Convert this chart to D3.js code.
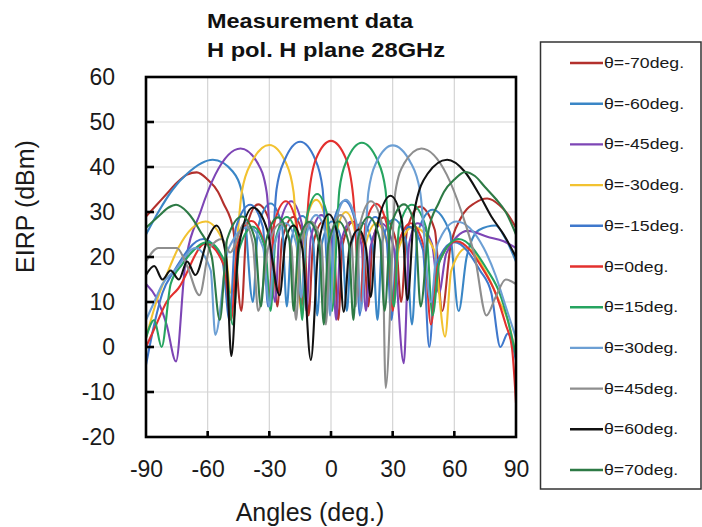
<!DOCTYPE html>
<html>
<head>
<meta charset="utf-8">
<script src="https://cdn.jsdelivr.net/npm/d3@7"></script>
<style>
  html, body { margin: 0; padding: 0; background: #fff; }
  svg { display: block; }
</style>
</head>
<body>
<script>
// ---------- data (angles in deg, EIRP in dBm) ----------
const xTickValues = [-90, -60, -30, 0, 30, 60, 90];
const yTickValues = [-20, -10, 0, 10, 20, 30, 40, 50, 60];

const seriesNames = ["θ=-70deg.", "θ=-60deg.", "θ=-45deg.", "θ=-30deg.", "θ=-15deg.", "θ=0deg.",
                     "θ=15deg.", "θ=30deg.", "θ=45deg.", "θ=60deg.", "θ=70deg."];
const seriesColors = ["#b3302c", "#3a86c6", "#7d45b5", "#f2c230", "#3f78cc", "#e3302e",
                      "#26a460", "#6c9fd4", "#8e8e8e", "#111111", "#2d7a45"];

const angM70 = [-90,-85,-80,-75,-70,-65.3,-60,-55,-52.4,-47.5,-43.6,-41,-35.5,-29,-26.1,-23.8,-18.3,-13,-10.9,-8.7,-3.7,1.3,3.5,5.7,10.7,15.9,18.1,20.3,25.8,31.5,34.1,37,43.3,50.5,54.1,58,63,70,76,82,86,90];
const valM70 = [29,31.5,34,36.5,38.3,38.8,37.2,34.5,32,26,8,26.7,31.7,26.7,9,23.9,28.9,23.9,7,22.9,27.9,22.9,6,22.8,27.8,22.8,9,23.8,28.8,23.8,10,26,31.2,26,8,22,28.5,32,33,31.5,29.5,26.5];

const angM60 = [-90,-84,-77,-70,-57.5,-47.8,-42.7,-38,-35.4,-29.4,-23.8,-21.5,-19.2,-14,-8.8,-6.7,-4.5,0.5,5.5,7.7,9.9,15,20.3,22.6,24.9,30.6,36.6,39.4,42.2,49.4,57.8,62.1,66,72,80,85,90];
const valM60 = [25,30,35,38.5,41.6,39,33,10,26.9,31.9,26.9,9,24.1,29.1,24.1,7,22.9,27.9,22.9,8,22.6,27.6,22.6,6,23.4,28.4,23.4,5,25.5,30.5,25.5,8,20,26,27,24,19];

const angM45 = [-90,-85,-80,-75.4,-71,-63.5,-56.3,-44,-35.6,-31.3,-27.2,-24.8,-19.4,-14.2,-12,-9.8,-4.7,0.3,2.5,4.6,9.7,14.8,17,19.3,24.7,30.4,35.4,38,42,49.1,52.5,56.1,66.6,76,84,90];
const valM45 = [14,11,5,-3.2,18,30,38.3,44.1,40.8,34.4,10,27.4,32.4,27.4,8,24.3,29.3,24.3,6,22.8,27.8,22.8,8,22.4,27.4,22.4,-3.6,22.9,27.5,22.9,12,20.8,25.8,24.5,23.5,22];

const angM30 = [-90,-85,-80,-74.3,-61,-51.9,-48.6,-43.4,-38.7,-30,-22,-18.2,-14.5,-12.3,-7.2,-2.15,0.5,2.15,7.2,12.3,14.5,16.7,22,27.6,30,33,40,50,55.5,58.5,66,76,82,86,90];
const valM30 = [2,10,16,22,27.9,22.9,12,34.4,41,44.9,41,34.4,8,27.7,32.7,27.7,8.6,24.3,30,24.3,10,22.5,27.5,22.5,10,22,26.7,21.7,2.3,17,22,16,10,6,-2];

const angM15 = [-90,-86,-82,-76.2,-62.1,-52.8,-49.4,-46.2,-39.3,-33.1,-30.6,-26.5,-22.6,-15,-7.7,-4.1,-0.5,1.65,6.7,11.75,14,16.2,21.5,27,29.4,31.9,38,44.7,47.8,51.1,60,72.5,78,82.4,86,90];
const valM15 = [-4,5,12,17,24,19,6,26.6,31.6,26.6,9,35,41.5,45.6,41.7,35.2,9,28.5,32.5,28,7,23.9,28.9,23.9,6,21.7,26.7,21.7,0,18.3,23.3,17,12,0,3,-3];

const ang0 = [-90,-85,-80,-74.3,-61,-51.9,-48.6,-45.4,-38.7,-32.5,-30,-27.6,-22,-16.7,-14.5,-10.8,-7.2,0,7.2,10.8,14.5,16.7,22,27.6,30,32.5,38.7,45.4,48.6,51.9,61,74.3,80,85,88,90];
const val0 = [0,5,10,13,23,18,6,23,28,23,11,27.5,32.4,27.4,9,33.5,41.9,45.8,41.9,33.5,10,27,31.8,26.5,8,22.5,27.5,22,5,18,23.5,17,12,5,0,-12.5];

const angP15 = [-90,-86,-82.4,-78,-72.5,-60,-51.1,-47.8,-44.7,-38,-31.9,-29.4,-27,-21.5,-16.2,-14,-11.75,-6.7,-1.65,0.5,4.1,7.7,15,22.6,26.5,30.6,33.1,39.3,46.2,49.4,52.8,62.1,76.2,82,86,90];
const valP15 = [2,6,0,14,18.3,23.3,18.3,5,21.7,26.7,21.7,8,23.9,28.9,23.9,6,29,34,29,8,35,41.5,45.4,41.5,35,9,26.6,31.6,26.6,7,19,24,17,12,6,-2];

const angP30 = [-90,-86,-82,-76,-66,-58.5,-56.3,-50,-40,-33,-30,-27.6,-22,-16.7,-14.5,-12.3,-7.2,-2.15,-0.5,2.15,7.2,12.3,14.5,18.2,22,30,38.7,43.4,48.6,51.9,61,74.3,80,85,90];
const valP30 = [6,10,14,17,22,17,2.7,21.7,26.7,22,9,22.5,27.5,22.5,11,24.3,29.3,24.3,7,27.7,32.7,27.7,8,34.4,41,44.8,41,34.4,10,22.9,27.9,22,16,9,2];

const angP45 = [-90,-84,-75,-70,-64,-59,-53,-49.1,-42,-38,-35.4,-30.4,-24.7,-19.3,-17,-14.8,-9.7,-4.6,-2.5,-0.3,4.7,9.8,12,14.2,19.4,24.8,26.6,31.3,35.6,44,56.3,63.5,70,75.6,80,85,90];
const valP45 = [19,22,22,18,11.5,22,24,21,27.5,22.9,8,22.4,27.4,22.4,6,22.8,27.8,22.8,5,24.3,29.3,24.3,9,27.4,32.4,27.4,-9.1,34.4,40.8,44.1,38.3,30,20,7,11,15,14];

const angP60 = [-90,-86,-82,-78,-74,-70,-66,-60,-55.8,-51,-48.5,-45,-38,-31,-25,-22,-18.3,-14,-9.8,-6,-1.1,3.5,6.2,9,13.5,17,19.3,22,29,34.5,37.2,40.5,47,56.5,65,72,78,84,90];
const valP60 = [16,18,15,17,15,19,16,24,27,20,-2,22,31,26,11.5,24,27,22,-2.9,23,29.5,24,7.8,22,26.1,22,11.1,26,33.6,28,10.4,30,38.5,41.6,39,34,29,25,20];

const angP70 = [-90,-84,-79,-75.4,-70,-64,-58,-54.1,-50.5,-43.3,-37,-34.1,-31.5,-25.8,-20.3,-18.1,-15.9,-10.7,-5.7,-3.5,-1.3,3.7,8.7,10.9,13,18.3,23.8,26.1,29,35.5,41,43.6,47.5,52.4,55,60,65.3,70,75,80,85,90];
const valP70 = [26.5,29,31,31.6,30,26,20,6,24,29,24,9,23.8,28.8,23.8,8,22.8,27.8,22.8,5,22.9,27.9,22.9,6,23.9,28.9,23.9,8,26.7,31.7,26.7,9,26,32,34.5,37.2,38.9,38,35.5,33,30,25];

const seriesAngles = [angM70, angM60, angM45, angM30, angM15, ang0, angP15, angP30, angP45, angP60, angP70];
const seriesValues = [valM70, valM60, valM45, valM30, valM15, val0, valP15, valP30, valP45, valP60, valP70];

// ---------- layout ----------
const W = 702, H = 527;
const FONT = "'Liberation Sans', Arial, Helvetica, sans-serif";
const svg = d3.select("body").append("svg").attr("width", W).attr("height", H)
  .style("font-family", FONT);

const x = d3.scaleLinear().domain([-90, 90]).range([146, 516]);
const y = d3.scaleLinear().domain([-20, 60]).range([437, 77]);

// grid
const grid = svg.append("g");
grid.selectAll("line.v").data(xTickValues.slice(1, -1)).join("line")
  .attr("x1", d => x(d)).attr("x2", d => x(d)).attr("y1", y(60)).attr("y2", y(-20))
  .attr("stroke", "#d4d4d4").attr("stroke-width", 1.2);
grid.selectAll("line.h").data(yTickValues.slice(1, -1)).join("line")
  .attr("y1", d => y(d)).attr("y2", d => y(d)).attr("x1", x(-90)).attr("x2", x(90))
  .attr("stroke", "#d4d4d4").attr("stroke-width", 1.2);

// clip
svg.append("clipPath").attr("id", "plotclip").append("rect")
  .attr("x", x(-90)).attr("y", y(60)).attr("width", x(90) - x(-90)).attr("height", y(-20) - y(60));

// series lines
const line = d3.line().x(d => x(d[0])).y(d => y(d[1])).curve(d3.curveMonotoneX);
const lines = svg.append("g").attr("clip-path", "url(#plotclip)");
seriesAngles.forEach((angs, i) => {
  const pts = angs.map((a, j) => [a, seriesValues[i][j]]);
  lines.append("path").datum(pts)
    .attr("d", line).attr("fill", "none")
    .attr("stroke", seriesColors[i]).attr("stroke-width", 2.1)
    .attr("stroke-linejoin", "round");
});

// frame
svg.append("rect").attr("x", x(-90)).attr("y", y(60))
  .attr("width", x(90) - x(-90)).attr("height", y(-20) - y(60))
  .attr("fill", "none").attr("stroke", "#000").attr("stroke-width", 2.6);

// inward ticks
svg.append("g").selectAll("line").data(yTickValues.slice(1, -1)).join("line")
  .attr("x1", x(-90)).attr("x2", x(-90) + 8).attr("y1", d => y(d)).attr("y2", d => y(d))
  .attr("stroke", "#000").attr("stroke-width", 2.6);
svg.append("g").selectAll("line").data(xTickValues.slice(1, -1)).join("line")
  .attr("x1", d => x(d)).attr("x2", d => x(d)).attr("y1", y(-20)).attr("y2", y(-20) - 6)
  .attr("stroke", "#000").attr("stroke-width", 2.6);

// axes labels (plain hyphen-minus as in the reference)
const fmt = d => String(d);
const yAxis = svg.append("g").attr("transform", `translate(${x(-90)},0)`)
  .call(d3.axisLeft(y).tickValues(yTickValues).tickSize(0).tickPadding(31).tickFormat(fmt));
yAxis.select(".domain").remove();
yAxis.selectAll("text").attr("font-size", 23).attr("font-family", FONT).attr("fill", "#1a1a1a");

const xAxis = svg.append("g").attr("transform", `translate(0,${y(-20)})`)
  .call(d3.axisBottom(x).tickValues(xTickValues).tickSize(0).tickPadding(24).tickFormat(fmt));
xAxis.select(".domain").remove();
xAxis.selectAll("text").attr("font-size", 23).attr("font-family", FONT).attr("fill", "#1a1a1a");

// titles
svg.append("text").attr("x", 207).attr("y", 27.5).text("Measurement data")
  .attr("font-size", 20).attr("font-weight", "bold").attr("fill", "#111")
  .attr("textLength", 206).attr("lengthAdjust", "spacingAndGlyphs");
svg.append("text").attr("x", 207).attr("y", 56.5).text("H pol. H plane 28GHz")
  .attr("font-size", 20).attr("font-weight", "bold").attr("fill", "#111")
  .attr("textLength", 238).attr("lengthAdjust", "spacingAndGlyphs");

svg.append("text").attr("x", 310).attr("y", 520.5).attr("text-anchor", "middle")
  .attr("font-size", 25).attr("fill", "#1a1a1a").text("Angles (deg.)");
svg.append("text").attr("transform", "translate(34,206.5) rotate(-90)").attr("text-anchor", "middle")
  .attr("font-size", 25).attr("fill", "#1a1a1a").text("EIRP (dBm)");

// legend
const leg = svg.append("g");
leg.append("rect").attr("x", 540.5).attr("y", 42).attr("width", 160.5).attr("height", 447)
  .attr("fill", "#fff").attr("stroke", "#333").attr("stroke-width", 1.5);
seriesNames.forEach((name, i) => {
  const cy = 63 + i * 40.7;
  leg.append("line").attr("x1", 570).attr("x2", 603).attr("y1", cy).attr("y2", cy)
    .attr("stroke", seriesColors[i]).attr("stroke-width", 2.4);
  leg.append("text").attr("transform", `translate(604,${cy + 5}) scale(1.22,1)`)
    .attr("font-size", 14.5).attr("fill", "#1a1a1a").text(name);
});
</script>
</body>
</html>
